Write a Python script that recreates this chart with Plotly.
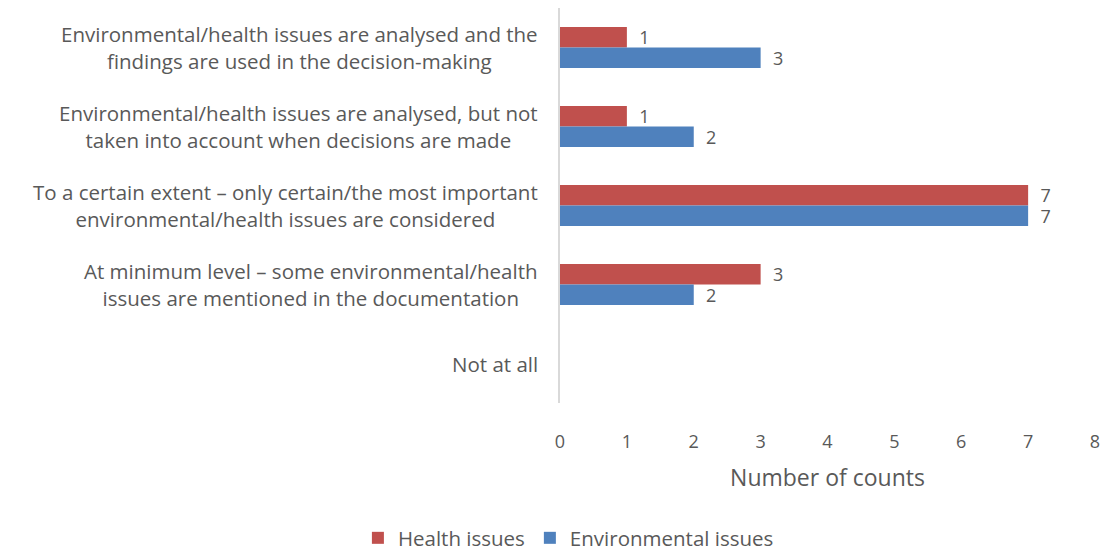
import plotly.graph_objects as go

# Response categories, listed top to bottom
categories = [
    "Environmental/health issues are analysed and the<br>findings are used in the decision-making",
    "Environmental/health issues are analysed, but not<br>taken into account when decisions are made",
    "To a certain extent – only certain/the most important<br>environmental/health issues are considered",
    "At minimum level – some environmental/health<br>issues are mentioned in the documentation",
    "Not at all",
]
health_counts = [1, 1, 7, 3, 0]
environmental_counts = [3, 2, 7, 2, 0]
x_ticks = [0, 1, 2, 3, 4, 5, 6, 7, 8]

RED = "#C0504D"
BLUE = "#4F81BD"
TEXT = "#595959"
FONT = "'Open Sans', Lato, sans-serif"
PAD = "\u00a0\u00a0"


def labels(values):
    return [PAD + str(v) if v else "" for v in values]


fig = go.Figure()
fig.add_trace(go.Bar(
    y=categories, x=health_counts, orientation="h", name="Health issues",
    marker=dict(color=RED, line=dict(width=0)),
    text=labels(health_counts), textposition="outside", cliponaxis=False,
    constraintext="none", textfont=dict(size=18, color=TEXT, family=FONT),
))
fig.add_trace(go.Bar(
    y=categories, x=environmental_counts, orientation="h", name="Environmental issues",
    marker=dict(color=BLUE, line=dict(width=0)),
    text=labels(environmental_counts), textposition="outside", cliponaxis=False,
    constraintext="none", textfont=dict(size=18, color=TEXT, family=FONT),
))

# Category labels as centred multi-line annotations left of the axis
for cat in categories:
    fig.add_annotation(
        x=0, xref="paper", y=cat, yref="y", text=cat, showarrow=False,
        xanchor="right", xshift=-20, align="center",
        font=dict(size=20.5, color=TEXT, family=FONT),
    )

fig.update_layout(
    width=1108, height=558,
    margin=dict(l=560, r=8, t=8, b=155),
    paper_bgcolor="white", plot_bgcolor="white",
    barmode="group", bargap=0.48, bargroupgap=0,
    font=dict(family=FONT, color=TEXT, size=18),
    showlegend=True,
    legend=dict(
        orientation="h", xref="container", yref="container",
        x=0.513, y=0, xanchor="center", yanchor="bottom",
        font=dict(size=20.5, color=TEXT, family=FONT),
        itemwidth=30, tracegroupgap=0,
    ),
    xaxis=dict(
        range=[0, 8], tickvals=x_ticks, showgrid=False, zeroline=False,
        showline=False, ticks="", ticklabelstandoff=26,
        tickfont=dict(size=18, color=TEXT, family=FONT),
        title=dict(text="Number of counts", standoff=17,
                   font=dict(size=23, color=TEXT, family=FONT)),
    ),
    yaxis=dict(
        autorange="reversed", showticklabels=False, showgrid=False,
        zeroline=False, showline=True, linecolor="#D9D9D9", linewidth=2,
        ticks="",
    ),
)

fig.write_html("out.html")
